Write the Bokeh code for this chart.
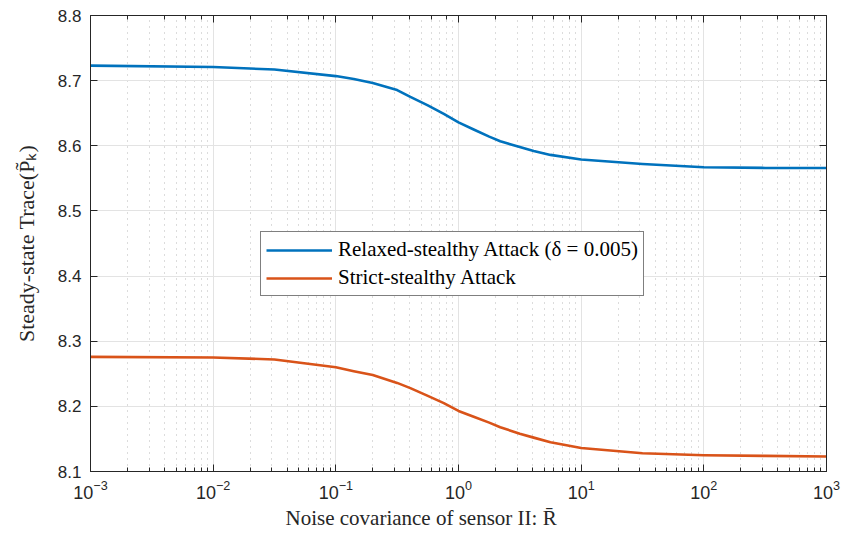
from bokeh.plotting import figure
from bokeh.models import (Range1d, FixedTicker, LogAxis, LinearAxis, LogTicker,
                          CustomJSTickFormatter, Title, PrintfTickFormatter)
from bokeh.embed import file_html
from bokeh.resources import INLINE

# ---- data ----
noise_cov = [0.001, 0.01, 0.0316, 0.1, 0.14, 0.2, 0.316, 0.405, 0.562, 0.759,
             1.0, 1.33, 1.78, 2.19, 3.16, 4.10, 5.62, 10.0, 31.6, 100.0,
             316.0, 1000.0]
relaxed_trace = [8.723, 8.721, 8.717, 8.707, 8.7025, 8.6965, 8.6855, 8.675,
                 8.662, 8.649, 8.636, 8.625, 8.614, 8.607, 8.598, 8.592,
                 8.586, 8.579, 8.572, 8.567, 8.566, 8.566]
strict_trace = [8.276, 8.275, 8.272, 8.260, 8.254, 8.248, 8.236, 8.228,
                8.216, 8.205, 8.193, 8.184, 8.175, 8.168, 8.158, 8.152,
                8.145, 8.136, 8.128, 8.125, 8.124, 8.123]
y_ticks = [8.1, 8.2, 8.3, 8.4, 8.5, 8.6, 8.7, 8.8]
series_names = ["Relaxed-stealthy Attack (\u03b4 = 0.005)", "Strict-stealthy Attack"]
x_title = "Noise covariance of sensor II: R\u0304"
y_title = "Steady-state Trace(P\u0303\u2096)"

AX = "#262626"
SERIF = "Liberation Serif"

p = figure(width=847, height=546, x_axis_type="log",
           x_range=Range1d(1e-3, 1e3), y_range=Range1d(8.1, 8.8),
           output_backend="svg", toolbar_location=None,
           min_border_left=90, min_border_right=21, min_border_top=15,
           min_border_bottom=75)
p.outline_line_color = None
p.background_fill_color = "white"

p.line(noise_cov, relaxed_trace, line_color="#0072BD", line_width=2.6,
       line_join="round", legend_label=series_names[0])
p.line(noise_cov, strict_trace, line_color="#D95319", line_width=2.6,
       line_join="round", legend_label=series_names[1])


def style(ax, minor=True):
    ax.axis_line_color = AX
    ax.axis_line_width = 1
    ax.major_tick_line_color = AX
    ax.major_tick_in = 7
    ax.major_tick_out = 0
    if minor:
        ax.minor_tick_line_color = AX
        ax.minor_tick_in = 4
        ax.minor_tick_out = 0
    else:
        ax.minor_tick_line_color = None
    ax.major_label_text_font = "Liberation Sans"
    ax.major_label_text_font_size = "17px"
    ax.major_label_text_color = AX


xa = p.xaxis[0]
style(xa)
xa.major_label_text_font_size = "18px"
xa.major_label_standoff = 8

ya = p.yaxis[0]
style(ya, minor=False)
ya.ticker = FixedTicker(ticks=y_ticks)
ya.formatter = PrintfTickFormatter(format="%.1f")
ya.major_label_standoff = 9
ya.axis_label = y_title
ya.axis_label_text_font = SERIF
ya.axis_label_text_font_style = "normal"
ya.axis_label_text_font_size = "22px"
ya.axis_label_text_color = AX
ya.axis_label_standoff = 16

empty = CustomJSTickFormatter(code="return ''")
top = LogAxis(ticker=LogTicker(), formatter=empty)
style(top)
top.major_label_text_font_size = "0px"
top.major_label_standoff = 0
p.add_layout(top, "above")

right = LinearAxis(ticker=FixedTicker(ticks=y_ticks), formatter=empty)
style(right, minor=False)
right.major_label_text_font_size = "0px"
right.major_label_standoff = 0
p.add_layout(right, "right")

# grids
p.xgrid.grid_line_color = "#e3e3e3"
p.xgrid.grid_line_width = 1
p.xgrid.minor_grid_line_color = "#b8b8b8"
p.xgrid.minor_grid_line_dash = "1 5"
p.xgrid.minor_grid_line_width = 1
p.ygrid.ticker = FixedTicker(ticks=y_ticks)
p.ygrid.grid_line_color = "#e3e3e3"
p.ygrid.grid_line_width = 1

# x title (placed left of centre, as in the reference)
xt = Title(text=x_title, align="left", offset=195, text_font=SERIF,
           text_font_size="21px", text_font_style="normal", text_color=AX,
           standoff=4)
p.add_layout(xt, "below")

lg = p.legend[0]
lg.location = (170, 175)
lg.border_line_color = "black"
lg.border_line_width = 1
lg.background_fill_color = "white"
lg.background_fill_alpha = 1
lg.label_text_font = SERIF
lg.label_text_font_size = "21px"
lg.label_text_color = "black"
lg.glyph_width = 66
lg.glyph_height = 20
lg.label_height = 20
lg.padding = 5
lg.spacing = 3
lg.label_standoff = 6
lg.margin = 0

open("out.html", "w").write(file_html(p, INLINE))
